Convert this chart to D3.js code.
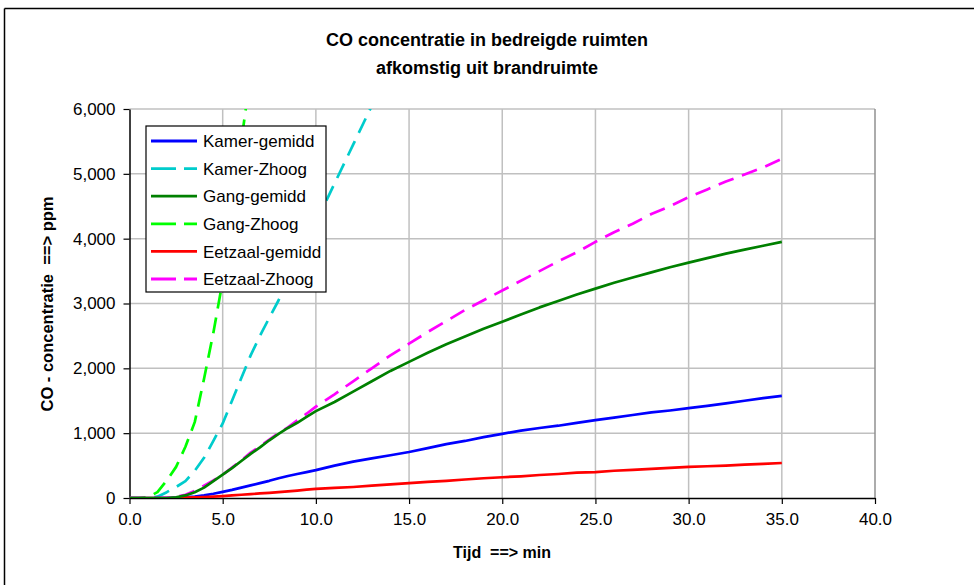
<!DOCTYPE html>
<html>
<head>
<meta charset="utf-8">
<script src="https://cdn.jsdelivr.net/npm/d3@7"></script>
<style>
  html, body { margin: 0; padding: 0; background: #fff; }
  svg { display: block; font-family: "Liberation Sans", Arial, sans-serif; }
</style>
</head>
<body>
<svg id="chart" width="974" height="585"></svg>
<script>
// ---- data ----
const times = [0,0.5,1,1.5,2,2.5,3,3.5,4,4.5,5,5.5,6,6.5,7,7.5,8,8.5,9,9.5,10,
               11,12,13,14,15,16,17,18,19,20,21,22,23,24,25,26,27,28,29,30,31,32,33,34,35];

const kamerGemidd = [0,0,0,0,0,5,10,20,40,65,95,125,160,195,230,265,305,340,370,400,430,
                     500,560,610,660,710,770,830,880,940,990,1040,1080,1115,1160,1200,1240,1280,1320,1350,1385,1420,1460,1500,1540,1575];
const kamerZhoog  = [0,0,0,20,90,170,260,420,620,880,1150,1500,1850,2200,2500,2780,3050,3350,3650,3950,4250,
                     4850,5450,6050,6650,null,null,null,null,null,null,null,null,null,null,null,null,null,null,null,null,null,null,null,null,null];
const gangGemidd  = [0,0,0,0,0,10,40,90,160,260,360,460,570,680,780,890,990,1080,1160,1250,1340,
                     1480,1640,1800,1960,2100,2240,2370,2490,2610,2720,2830,2940,3040,3140,3230,3320,3400,3480,3560,3630,3700,3770,3830,3890,3950];
const gangZhoog   = [0,0,15,90,270,480,790,1170,1840,2550,3350,4400,5500,6550,null,null,null,null,null,null,null,
                     null,null,null,null,null,null,null,null,null,null,null,null,null,null,null,null,null,null,null,null,null,null,null,null,null];
const eetzaalGemidd = [0,0,0,0,0,0,5,10,15,22,30,40,50,60,70,80,90,102,115,128,140,
                       155,170,190,210,230,250,265,285,305,320,335,355,370,390,400,420,435,450,465,480,490,500,515,525,540];
const eetzaalZhoog  = [0,0,0,0,5,20,50,110,190,270,360,470,580,700,800,900,1000,1090,1200,1300,1410,
                       1600,1800,2000,2200,2380,2560,2730,2900,3050,3200,3350,3500,3650,3790,3950,4100,4230,4380,4500,4640,4760,4880,4990,5100,5230];

const seriesNames = ["Kamer-gemidd","Kamer-Zhoog","Gang-gemidd","Gang-Zhoog","Eetzaal-gemidd","Eetzaal-Zhoog"];
const seriesValues = [kamerGemidd, kamerZhoog, gangGemidd, gangZhoog, eetzaalGemidd, eetzaalZhoog];
const seriesColors = ["#0000FF","#00CCCC","#008000","#00FF00","#FF0000","#FF00FF"];
const seriesDashed = [false,true,false,true,false,true];

const xTicks = [0,5,10,15,20,25,30,35,40];
const yTicks = [0,1000,2000,3000,4000,5000,6000];
const titleLines = ["CO concentratie in bedreigde ruimten","afkomstig uit brandruimte"];
const xLabel = "Tijd  ==> min";
const yLabel = "CO - concentratie  ==> ppm";

// ---- layout ----
const svg = d3.select("#chart");
const plot = {left: 129.5, right: 875, top: 109, bottom: 498};

const x = d3.scaleLinear().domain([0,40]).range([plot.left, plot.right]);
const y = d3.scaleLinear().domain([0,6000]).range([plot.bottom, plot.top]);

// outer frame (top + left visible)
svg.append("line").attr("x1",4.5).attr("x2",974).attr("y1",8.5).attr("y2",8.5).attr("stroke","#000").attr("stroke-width",1.5);
svg.append("line").attr("x1",4.5).attr("x2",4.5).attr("y1",8.5).attr("y2",585).attr("stroke","#000").attr("stroke-width",1.5);

// title
svg.append("g").selectAll("text").data(titleLines).join("text")
  .attr("x", 487).attr("y", (d,i) => 46 + i*28)
  .attr("text-anchor","middle").attr("font-weight","bold").attr("font-size","18px")
  .attr("fill","#000").text(d => d);

// gridlines
svg.append("g").selectAll("line.h").data(yTicks.filter(d => d > 0)).join("line")
  .attr("x1", plot.left).attr("x2", plot.right)
  .attr("y1", d => y(d)).attr("y2", d => y(d))
  .attr("stroke","#C0C0C0").attr("stroke-width",1.5);
svg.append("g").selectAll("line.v").data(xTicks.filter(d => d > 0)).join("line")
  .attr("x1", d => x(d)).attr("x2", d => x(d))
  .attr("y1", plot.top).attr("y2", plot.bottom)
  .attr("stroke", d => d === 40 ? "#909090" : "#C0C0C0").attr("stroke-width",1.5);

// axes
const xAxis = d3.axisBottom(x).tickValues(xTicks).tickFormat(d3.format(".1f")).tickSize(6).tickSizeOuter(0);
const gx = svg.append("g").attr("transform", `translate(0,${plot.bottom})`).call(xAxis);
gx.select(".domain").attr("stroke","#000").attr("stroke-width",1.5);
gx.selectAll(".tick line").attr("stroke","#000").attr("stroke-width",1.2);
gx.selectAll(".tick text").attr("font-size","17px").attr("font-family","'Liberation Sans', Arial, sans-serif").attr("fill","#000").attr("dy","1.05em");

const yAxis = d3.axisLeft(y).tickValues(yTicks).tickFormat(d3.format(",")).tickSize(6).tickSizeOuter(0);
const gy = svg.append("g").attr("transform", `translate(${plot.left},0)`).call(yAxis);
gy.select(".domain").attr("stroke","#000").attr("stroke-width",1.5);
gy.selectAll(".tick line").attr("stroke","#000").attr("stroke-width",1.2);
gy.selectAll(".tick text").attr("font-size","17px").attr("font-family","'Liberation Sans', Arial, sans-serif").attr("fill","#000").attr("x",-14);

// axis titles
svg.append("text").attr("x", 502).attr("y", 558).attr("text-anchor","middle")
  .attr("font-weight","bold").attr("font-size","16px").style("white-space","pre").text(xLabel);
svg.append("text").attr("transform","translate(53,304) rotate(-90)").attr("text-anchor","middle")
  .attr("font-weight","bold").attr("font-size","16.5px").style("white-space","pre").text(yLabel);

// clip
svg.append("clipPath").attr("id","clip").append("rect")
  .attr("x", plot.left).attr("y", plot.top).attr("width", plot.right - plot.left).attr("height", plot.bottom - plot.top);

const line = d3.line()
  .defined(d => d[1] !== null)
  .x(d => x(d[0])).y(d => y(d[1]));

const gLines = svg.append("g").attr("clip-path","url(#clip)");
const drawOrder = [1,3,0,4,5,2];
drawOrder.forEach(i => {
  const pts = times.map((t,k) => [t, seriesValues[i][k]]);
  gLines.append("path").datum(pts)
    .attr("d", line)
    .attr("fill","none")
    .attr("stroke", seriesColors[i])
    .attr("stroke-width", 2.7)
    .attr("stroke-dasharray", seriesDashed[i] ? "16,9" : null)
    .attr("stroke-linejoin","round");
});

// legend
const lg = svg.append("g").attr("transform","translate(146,126)");
lg.append("rect").attr("x",0).attr("y",0).attr("width",180).attr("height",166)
  .attr("fill","#fff").attr("stroke","#000").attr("stroke-width",1.2);
const rows = lg.selectAll("g.row").data(seriesNames).join("g")
  .attr("transform",(d,i) => `translate(0,${15 + i*27.6})`);
rows.append("line").attr("x1",5).attr("x2",51).attr("y1",0).attr("y2",0)
  .attr("stroke",(d,i) => seriesColors[i]).attr("stroke-width",2.8)
  .attr("stroke-dasharray",(d,i) => seriesDashed[i] ? "25,8" : null);
rows.append("text").attr("x",57).attr("y",0).attr("dy","0.36em")
  .attr("font-size","17px").attr("fill","#000").text(d => d);
</script>
</body>
</html>
